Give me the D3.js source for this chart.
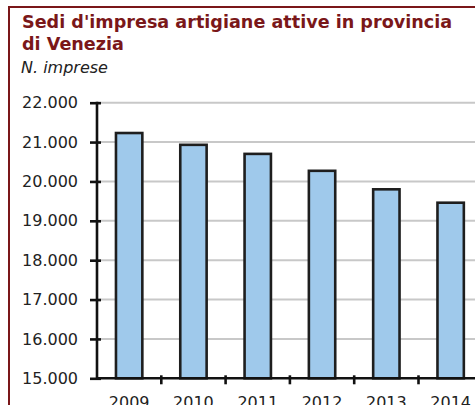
<!DOCTYPE html>
<html>
<head>
<meta charset="utf-8">
<script src="https://cdn.jsdelivr.net/npm/d3@7"></script>
<style>
  body { margin: 0; background: #fff; }
  svg { display: block; }
</style>
</head>
<body>
<svg id="chart"></svg>
<script>
var width = 475
var height = 405

// data
var years = ["2009", "2010", "2011", "2012", "2013", "2014"]
var imprese = [21230, 20930, 20700, 20270, 19800, 19460]
var yTicks = [15000, 16000, 17000, 18000, 19000, 20000, 21000, 22000]

var svg = d3.select("#chart")
    .attr("width", width)
    .attr("height", height)
    .style("font-family", "'DejaVu Sans', Verdana, sans-serif");

//Frame in dark red (only top and left show)
svg.append("line")
    .attr("x1", 9).attr("x2", width)
    .attr("y1", 7).attr("y2", 7)
    .attr("stroke", "#7a1719")
    .attr("stroke-width", 2);
svg.append("line")
    .attr("x1", 9).attr("x2", 9)
    .attr("y1", 6).attr("y2", height)
    .attr("stroke", "#7a1719")
    .attr("stroke-width", 2);

//Titles
svg.append("text")
    .attr("x", 22).attr("y", 28)
    .attr("font-size", "17.6px")
    .attr("font-weight", "bold")
    .attr("fill", "#7a1719")
    .text("Sedi d'impresa artigiane attive in provincia");
svg.append("text")
    .attr("x", 22).attr("y", 50)
    .attr("font-size", "17.6px")
    .attr("font-weight", "bold")
    .attr("fill", "#7a1719")
    .text("di Venezia");
svg.append("text")
    .attr("x", 21).attr("y", 73)
    .attr("font-size", "16px")
    .attr("font-style", "italic")
    .attr("fill", "#222")
    .text("N. imprese");

var x0 = 97, step = 64.3
var x = d3.scaleBand()
    .domain(years)
    .range([x0, x0 + step * years.length])
    .paddingInner(0.59)
    .paddingOuter(0.295);

var y = d3.scaleLinear()
    .domain([15000, 22000])
    .range([378.3, 102.7]);

var fmt = function(d){ return d3.format(",")(d).replace(",", ".") }

//gridlines
svg.append("g")
  .selectAll("line")
  .data(yTicks.slice(1))
  .enter().append("line")
    .attr("x1", x0).attr("x2", width)
    .attr("y1", function(d){ return y(d) })
    .attr("y2", function(d){ return y(d) })
    .attr("stroke", "#c8c8c8")
    .attr("stroke-width", 2);

//bars
svg.append("g")
  .selectAll("rect")
  .data(imprese)
  .enter().append("rect")
    .attr("x", function(d, i){ return x(years[i]) })
    .attr("y", function(d){ return y(d) })
    .attr("width", x.bandwidth())
    .attr("height", function(d){ return y(15000) - y(d) })
    .attr("fill", "#9fc9eb")
    .attr("stroke", "#1e1e1e")
    .attr("stroke-width", 2.6);

//y axis
var yAxis = svg.append("g")
    .attr("transform", "translate(" + x0 + ",0)")
    .call(d3.axisLeft(y).tickValues(yTicks).tickFormat(fmt).tickSize(7).tickPadding(12));
yAxis.select(".domain").remove();
yAxis.append("line")
    .attr("y1", y(22000) - 1).attr("y2", y(15000))
    .attr("stroke", "#111").attr("stroke-width", 2.6);
yAxis.selectAll(".tick line")
    .attr("x1", 4)
    .attr("stroke", "#111").attr("stroke-width", 2.6);
yAxis.selectAll(".tick text")
    .attr("font-size", "16px")
    .attr("fill", "#222")
    .attr("font-family", "'DejaVu Sans', Verdana, sans-serif");

//x axis with ticks between categories
var xb = svg.append("g")
    .attr("transform", "translate(0," + y(15000) + ")");
xb.append("line")
    .attr("x1", x0).attr("x2", width)
    .attr("stroke", "#111").attr("stroke-width", 2.6);
xb.selectAll(".sep")
  .data(years)
  .enter().append("line")
    .attr("class", "sep")
    .attr("x1", function(d){ return x(d) + x.bandwidth() / 2 + step / 2 })
    .attr("x2", function(d){ return x(d) + x.bandwidth() / 2 + step / 2 })
    .attr("y1", -3).attr("y2", 6)
    .attr("stroke", "#111").attr("stroke-width", 2.6);
xb.selectAll(".lab")
  .data(years)
  .enter().append("text")
    .attr("class", "lab")
    .attr("x", function(d){ return x(d) + x.bandwidth() / 2 })
    .attr("y", 30)
    .attr("text-anchor", "middle")
    .attr("font-size", "16px")
    .attr("fill", "#222")
    .text(function(d){ return d });
</script>
</body>
</html>
